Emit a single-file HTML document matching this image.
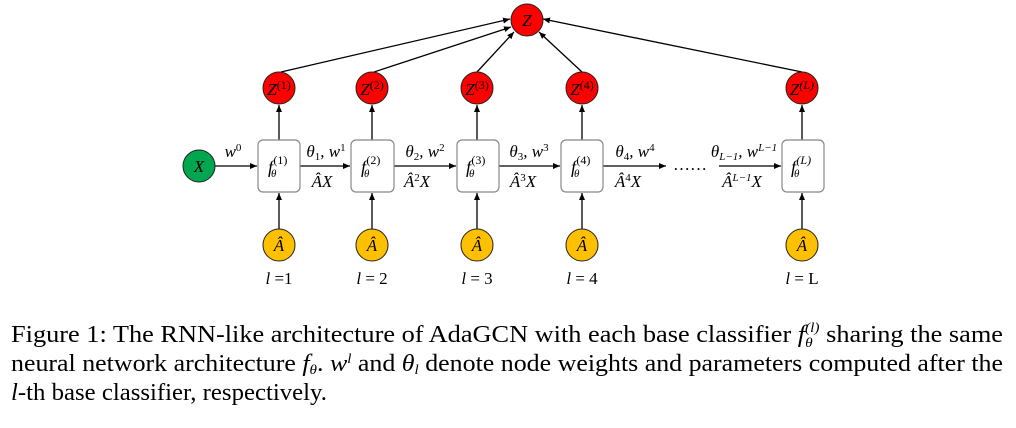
<!DOCTYPE html>
<html><head><meta charset="utf-8"><style>
body{margin:0;background:#fff;width:1016px;height:423px;overflow:hidden}
svg text{font-family:"Liberation Serif",serif}
.m{font-style:italic;font-size:17px}
</style></head><body>
<svg width="1016" height="423" viewBox="0 0 1016 423" xmlns="http://www.w3.org/2000/svg">
<defs><marker id="a" markerWidth="8" markerHeight="8" refX="7" refY="3" orient="auto" markerUnits="userSpaceOnUse"><path d="M0,0 L7,3 L0,6z" fill="#000"/></marker></defs>
<g stroke="#000" stroke-width="1.3" fill="none" marker-end="url(#a)">
<line x1="281" y1="72" x2="510" y2="19"/>
<line x1="374" y1="72" x2="511" y2="27"/>
<line x1="477" y1="72" x2="514" y2="32"/>
<line x1="582" y1="72" x2="539" y2="32"/>
<line x1="802" y1="72" x2="543" y2="19"/>
<line x1="215" y1="166" x2="257" y2="166"/>
<line x1="300" y1="166" x2="350" y2="166"/>
<line x1="394" y1="166" x2="456" y2="166"/>
<line x1="499" y1="166" x2="560" y2="166"/>
<line x1="603" y1="166" x2="666" y2="166"/>
<line x1="719" y1="166" x2="781" y2="166"/>
<line x1="279" y1="140" x2="279" y2="105"/><line x1="372" y1="140" x2="372" y2="105"/><line x1="477" y1="140" x2="477" y2="105"/><line x1="582" y1="140" x2="582" y2="105"/><line x1="802" y1="140" x2="802" y2="105"/>
<line x1="279" y1="229" x2="279" y2="193"/><line x1="372" y1="229" x2="372" y2="193"/><line x1="477" y1="229" x2="477" y2="193"/><line x1="582" y1="229" x2="582" y2="193"/><line x1="802" y1="229" x2="802" y2="193"/>
</g>
<g stroke="#222" stroke-width="1">
<circle cx="527" cy="20" r="16" fill="#f00"/>
<circle cx="279" cy="88" r="16" fill="#f00"/><circle cx="372" cy="88" r="16" fill="#f00"/><circle cx="477" cy="88" r="16" fill="#f00"/><circle cx="582" cy="88" r="16" fill="#f00"/><circle cx="802" cy="88" r="16" fill="#f00"/>
<circle cx="199" cy="166" r="16" fill="#00a650"/>
<circle cx="279" cy="245" r="16" fill="#ffc000"/><circle cx="372" cy="245" r="16" fill="#ffc000"/><circle cx="477" cy="245" r="16" fill="#ffc000"/><circle cx="582" cy="245" r="16" fill="#ffc000"/><circle cx="802" cy="245" r="16" fill="#ffc000"/>
</g>
<g stroke="#888" stroke-width="1.2" fill="#fff">
<rect x="258" y="140" width="42" height="52" rx="5"/><rect x="351" y="140" width="43" height="52" rx="5"/><rect x="457" y="140" width="42" height="52" rx="5"/><rect x="561" y="140" width="42" height="52" rx="5"/><rect x="782" y="140" width="42" height="52" rx="5"/>
</g>
<g class="m" text-anchor="middle">
<text x="527" y="26">Z</text>
<text x="279" y="95">Z<tspan font-style="normal" font-size="12" dy="-6">(1)</tspan></text>
<text x="372" y="95">Z<tspan font-style="normal" font-size="12" dy="-6">(2)</tspan></text>
<text x="477" y="95">Z<tspan font-style="normal" font-size="12" dy="-6">(3)</tspan></text>
<text x="582" y="95">Z<tspan font-style="normal" font-size="12" dy="-6">(4)</tspan></text>
<text x="802" y="95">Z<tspan font-size="12" dy="-6">(L)</tspan></text>
<text x="199" y="172">X</text>
<text x="279" y="251">Â</text><text x="372" y="251">Â</text><text x="477" y="251">Â</text><text x="582" y="251">Â</text><text x="802" y="251">Â</text>
<text x="233" y="157">w<tspan font-style="normal" font-size="11" dy="-6">0</tspan></text>
<text x="326" y="157">θ<tspan font-style="normal" font-size="11" dy="3">1</tspan><tspan dy="-3">, w</tspan><tspan font-style="normal" font-size="11" dy="-6">1</tspan></text>
<text x="425" y="157">θ<tspan font-style="normal" font-size="11" dy="3">2</tspan><tspan dy="-3">, w</tspan><tspan font-style="normal" font-size="11" dy="-6">2</tspan></text>
<text x="529" y="157">θ<tspan font-style="normal" font-size="11" dy="3">3</tspan><tspan dy="-3">, w</tspan><tspan font-style="normal" font-size="11" dy="-6">3</tspan></text>
<text x="635" y="157">θ<tspan font-style="normal" font-size="11" dy="3">4</tspan><tspan dy="-3">, w</tspan><tspan font-style="normal" font-size="11" dy="-6">4</tspan></text>
<text x="744" y="157">θ<tspan font-size="11" dy="3">L−1</tspan><tspan dy="-3">, w</tspan><tspan font-size="11" dy="-6">L−1</tspan></text>
<text x="322" y="187">ÂX</text>
<text x="417" y="187">Â<tspan font-style="normal" font-size="11" dy="-6">2</tspan><tspan dy="6">X</tspan></text>
<text x="523" y="187">Â<tspan font-style="normal" font-size="11" dy="-6">3</tspan><tspan dy="6">X</tspan></text>
<text x="628" y="187">Â<tspan font-style="normal" font-size="11" dy="-6">4</tspan><tspan dy="6">X</tspan></text>
<text x="742" y="187">Â<tspan font-size="11" dy="-6">L−1</tspan><tspan dy="6">X</tspan></text>
<text x="690" y="170" font-style="normal">……</text>
<text x="279" y="284">l <tspan font-style="normal">=1</tspan></text>
<text x="372" y="284">l <tspan font-style="normal">= 2</tspan></text>
<text x="477" y="284">l <tspan font-style="normal">= 3</tspan></text>
<text x="582" y="284">l <tspan font-style="normal">= 4</tspan></text>
<text x="802" y="284">l <tspan font-style="normal">= L</tspan></text>
</g>
<g class="m">
<text x="268" y="173" font-size="18">f<tspan font-size="11" dy="4" dx="-2">θ</tspan><tspan font-style="normal" font-size="12" dy="-13" dx="-3">(1)</tspan></text>
<text x="361" y="173" font-size="18">f<tspan font-size="11" dy="4" dx="-2">θ</tspan><tspan font-style="normal" font-size="12" dy="-13" dx="-3">(2)</tspan></text>
<text x="466" y="173" font-size="18">f<tspan font-size="11" dy="4" dx="-2">θ</tspan><tspan font-style="normal" font-size="12" dy="-13" dx="-3">(3)</tspan></text>
<text x="571" y="173" font-size="18">f<tspan font-size="11" dy="4" dx="-2">θ</tspan><tspan font-style="normal" font-size="12" dy="-13" dx="-3">(4)</tspan></text>
<text x="791" y="173" font-size="18">f<tspan font-size="11" dy="4" dx="-2">θ</tspan><tspan font-size="12" dy="-13" dx="-3">(L)</tspan></text>
</g>
<g font-size="24">
<text x="11" y="342" textLength="992" lengthAdjust="spacingAndGlyphs">Figure 1: The RNN-like architecture of AdaGCN with each base classifier <tspan font-style="italic">f<tspan font-size="14" dy="5">θ</tspan><tspan font-size="14" dy="-15" dx="-7">(l)</tspan></tspan><tspan dy="10"> sharing the same</tspan></text>
<text x="11" y="371" textLength="992" lengthAdjust="spacingAndGlyphs">neural network architecture <tspan font-style="italic">f<tspan font-size="14" dy="3">θ</tspan></tspan><tspan dy="-3">. </tspan><tspan font-style="italic">w<tspan font-size="14" dy="-8">l</tspan></tspan><tspan dy="8"> and </tspan><tspan font-style="italic">θ<tspan font-size="14" dy="3">l</tspan></tspan><tspan dy="-3"> denote node weights and parameters computed after the</tspan></text>
<text x="11" y="400" textLength="316" lengthAdjust="spacingAndGlyphs"><tspan font-style="italic">l</tspan>-th base classifier, respectively.</text>
</g>
</svg>
</body></html>
